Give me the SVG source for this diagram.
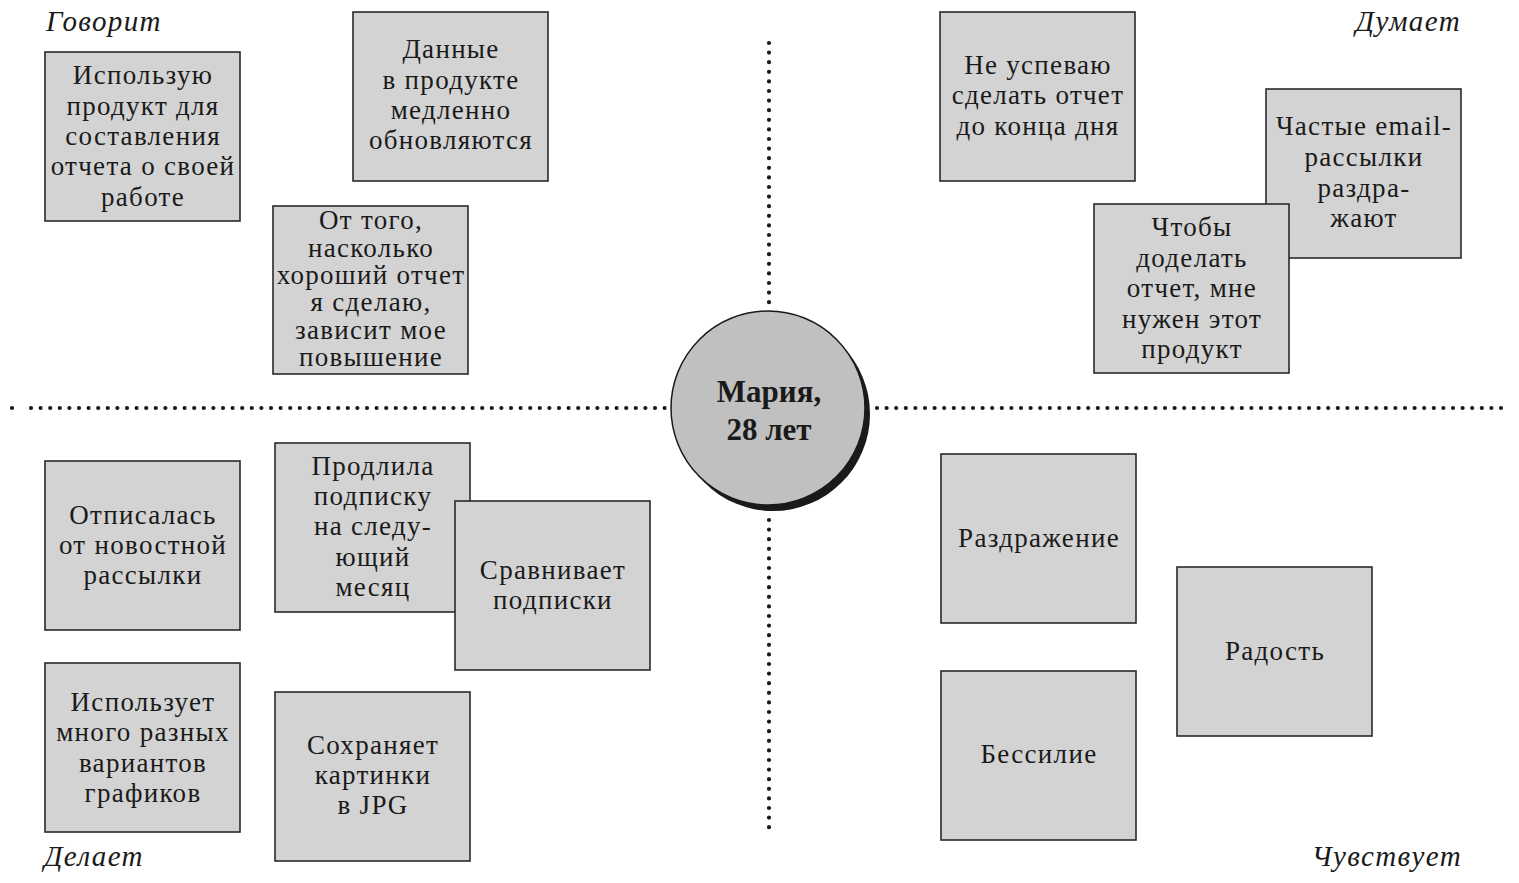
<svg xmlns="http://www.w3.org/2000/svg" width="1519" height="883" viewBox="0 0 1519 883">
<style>
.box{fill:#d3d3d3;stroke:#2a2a2a;stroke-width:1.6}
.t{font-family:"Liberation Serif","Times New Roman",serif;font-size:27px;letter-spacing:1.3px;fill:#1a1a1a;text-anchor:middle}
.lbl{font-family:"Liberation Serif","Times New Roman",serif;font-size:29px;letter-spacing:1.4px;font-style:italic;fill:#1a1a1a}
.dot{stroke:#1a1a1a;stroke-width:4.2;stroke-linecap:round;stroke-dasharray:0 9.6;fill:none}
.name{font-family:"Liberation Serif","Times New Roman",serif;font-size:31px;font-weight:bold;fill:#1a1a1a;text-anchor:middle}
</style>
<rect width="1519" height="883" fill="#ffffff"/>
<g id="connectors">
<line class="dot" x1="12" y1="408" x2="12" y2="408"/>
<line class="dot" x1="31" y1="408" x2="668" y2="408"/>
<line class="dot" x1="877" y1="408" x2="1507" y2="408"/>
<line class="dot" x1="769" y1="43" x2="769" y2="306"/>
<line class="dot" x1="769" y1="520" x2="769" y2="835"/>
</g>
<g id="labels">
<text class="lbl" x="46" y="31">Говорит</text>
<text class="lbl" x="1461" y="31" text-anchor="end">Думает</text>
<text class="lbl" x="44" y="866">Делает</text>
<text class="lbl" x="1462" y="866" text-anchor="end">Чувствует</text>
</g>
<g id="center">
<circle cx="773" cy="414" r="97" fill="#1a1a1a"/>
<circle cx="768" cy="408" r="97" fill="#c0c0c0" stroke="#1a1a1a" stroke-width="1.5"/>
<text class="name" x="769" y="402">Мария,</text>
<text class="name" x="769" y="440">28 лет</text>
</g>
<g id="n1">
<rect class="box" x="45" y="52" width="195" height="169"/>
<text class="t" x="143" y="84">Использую</text>
<text class="t" x="143" y="114.5">продукт для</text>
<text class="t" x="143" y="145">составления</text>
<text class="t" x="143" y="175">отчета о своей</text>
<text class="t" x="143" y="205.5">работе</text>
</g>
<g id="n2">
<rect class="box" x="353" y="12" width="195" height="169"/>
<text class="t" x="451" y="58">Данные</text>
<text class="t" x="451" y="88.5">в продукте</text>
<text class="t" x="451" y="119">медленно</text>
<text class="t" x="451" y="149">обновляются</text>
</g>
<g id="n3">
<rect class="box" x="273" y="206" width="195" height="168"/>
<text class="t" x="371" y="229">От того,</text>
<text class="t" x="371" y="256.5">насколько</text>
<text class="t" x="371" y="284">хороший отчет</text>
<text class="t" x="371" y="311">я сделаю,</text>
<text class="t" x="371" y="338.5">зависит мое</text>
<text class="t" x="371" y="365.5">повышение</text>
</g>
<g id="n4">
<rect class="box" x="940" y="12" width="195" height="169"/>
<text class="t" x="1038" y="74">Не успеваю</text>
<text class="t" x="1038" y="104">сделать отчет</text>
<text class="t" x="1038" y="135">до конца дня</text>
</g>
<g id="n5">
<rect class="box" x="1266" y="89" width="195" height="169"/>
<text class="t" x="1364" y="135">Частые email-</text>
<text class="t" x="1364" y="166">рассылки</text>
<text class="t" x="1364" y="197">раздра-</text>
<text class="t" x="1364" y="227">жают</text>
</g>
<g id="n6">
<rect class="box" x="1094" y="204" width="195" height="169"/>
<text class="t" x="1192" y="236">Чтобы</text>
<text class="t" x="1192" y="267">доделать</text>
<text class="t" x="1192" y="297">отчет, мне</text>
<text class="t" x="1192" y="328">нужен этот</text>
<text class="t" x="1192" y="358">продукт</text>
</g>
<g id="n7">
<rect class="box" x="45" y="461" width="195" height="169"/>
<text class="t" x="143" y="524">Отписалась</text>
<text class="t" x="143" y="554">от новостной</text>
<text class="t" x="143" y="584">рассылки</text>
</g>
<g id="n8">
<rect class="box" x="275" y="443" width="195" height="169"/>
<text class="t" x="373" y="475">Продлила</text>
<text class="t" x="373" y="505">подписку</text>
<text class="t" x="373" y="535">на следу-</text>
<text class="t" x="373" y="566">ющий</text>
<text class="t" x="373" y="596">месяц</text>
</g>
<g id="n9">
<rect class="box" x="455" y="501" width="195" height="169"/>
<text class="t" x="553" y="579">Сравнивает</text>
<text class="t" x="553" y="609">подписки</text>
</g>
<g id="n10">
<rect class="box" x="45" y="663" width="195" height="169"/>
<text class="t" x="143" y="711">Использует</text>
<text class="t" x="143" y="741">много разных</text>
<text class="t" x="143" y="772">вариантов</text>
<text class="t" x="143" y="802">графиков</text>
</g>
<g id="n11">
<rect class="box" x="275" y="692" width="195" height="169"/>
<text class="t" x="373" y="754">Сохраняет</text>
<text class="t" x="373" y="784">картинки</text>
<text class="t" x="373" y="814">в JPG</text>
</g>
<g id="n12">
<rect class="box" x="941" y="454" width="195" height="169"/>
<text class="t" x="1039" y="547">Раздражение</text>
</g>
<g id="n13">
<rect class="box" x="1177" y="567" width="195" height="169"/>
<text class="t" x="1275" y="660">Радость</text>
</g>
<g id="n14">
<rect class="box" x="941" y="671" width="195" height="169"/>
<text class="t" x="1039" y="763">Бессилие</text>
</g>
</svg>
